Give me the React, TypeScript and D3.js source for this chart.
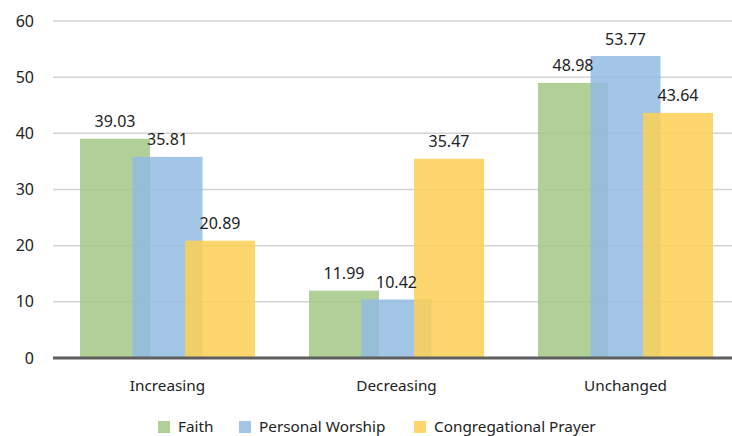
import React from 'react';
import * as d3 from 'd3';

const categories = ['Increasing', 'Decreasing', 'Unchanged'];
const seriesNames = ['Faith', 'Personal Worship', 'Congregational Prayer'];
const faith = [39.03, 11.99, 48.98];
const personalWorship = [35.81, 10.42, 53.77];
const congregationalPrayer = [20.89, 35.47, 43.64];
const yTicks = [0, 10, 20, 30, 40, 50, 60];

const colors = ['#a2c886', '#93bbe2', '#fdd053'];

const W = 732;
const H = 436;
const FONT = '"Noto Sans", "Open Sans", sans-serif';

export default function App() {
  const series = [faith, personalWorship, congregationalPrayer];

  const x = d3.scaleBand<string>().domain(categories).range([53, 740]).padding(0);
  const y = d3.scaleLinear().domain([0, 60]).range([358, 21]);

  const barW = 70;
  const barStep = 52.5; // bars overlap each other inside a group
  const legendX = [158, 239, 414];

  return (
    <svg width={W} height={H} style={{ position: 'absolute', left: 0, top: 0, fontFamily: FONT }}>
      <rect width={W} height={H} fill="#fff" />
      {/* grid */}
      {yTicks.filter(t => t > 0).map(t => (
        <line key={t} x1={53} x2={W} y1={y(t)} y2={y(t)} stroke="#d4d4d4" strokeWidth={1.5} />
      ))}
      {yTicks.map(t => (
        <text key={t} x={34} y={y(t)} dy="0.35em" textAnchor="end" fontSize={16} fill="#222">{t}</text>
      ))}
      {/* bars */}
      {series.map((vals, si) =>
        vals.map((v, ci) => {
          const cx = x(categories[ci])! + x.bandwidth() / 2 + (si - 1) * barStep;
          return (
            <rect key={`${si}-${ci}`} x={cx - barW / 2} y={y(v)} width={barW} height={y(0) - y(v)}
              fill={colors[si]} fillOpacity={0.85} />
          );
        })
      )}
      {series.map((vals, si) =>
        vals.map((v, ci) => {
          const cx = x(categories[ci])! + x.bandwidth() / 2 + (si - 1) * barStep;
          return (
            <text key={`l${si}-${ci}`} x={cx} y={y(v) - 17} dy="0.35em" textAnchor="middle" fontSize={16} fill="#222">
              {v.toFixed(2)}
            </text>
          );
        })
      )}
      {/* axis */}
      <line x1={53} x2={W} y1={y(0)} y2={y(0)} stroke="#5e5e5e" strokeWidth={3} />
      {categories.map(c => (
        <text key={c} x={x(c)! + x.bandwidth() / 2} y={386} dy="0.35em" textAnchor="middle" fontSize={15.3} fill="#222">{c}</text>
      ))}
      {/* legend */}
      {seriesNames.map((n, i) => (
        <g key={n}>
          <rect x={legendX[i]} y={421} width={12} height={12} fill={colors[i]} fillOpacity={0.85} />
          <text x={legendX[i] + 20} y={431.5} fontSize={15.3} fill="#222">{n}</text>
        </g>
      ))}
    </svg>
  );
}
